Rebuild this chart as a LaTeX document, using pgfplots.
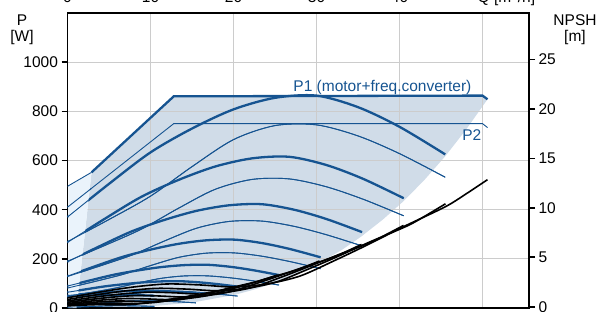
\documentclass[border=0pt]{standalone}
\usepackage{fontspec}
\setmainfont{Liberation Sans}
\usepackage{pgfplots}
\pgfplotsset{compat=1.18}
\usepackage{pgfplotstable}
\definecolor{pblue}{RGB}{22,84,145}
\definecolor{shade}{RGB}{208,220,232}
\definecolor{lshade}{RGB}{234,243,251}
\definecolor{gridc}{RGB}{204,204,204}

% x  P1  P2   (one table per speed)
\pgfplotstableread{
x p1 p2
0 370 270
5 505 360
10 633 455
15 730 575
20 808 685
25 855 742
30 864 745
35 817 700
40 737 628
45.5 625 532
}\sA
\pgfplotstableread{
x p1 p2
0 266.9 190.4
4.45 362.1 253.8
8.9 452.3 320.8
13.35 520.7 405.4
17.8 575.6 482.9
22.25 608.8 523.1
26.7 615.1 525.2
31.15 582.0 493.5
35.6 525.6 442.7
40.5 446.6 375.1
}\sB
\pgfplotstableread{
x p1 p2
0 187.7 128.1
3.9 251.8 170.9
7.8 312.5 215.9
11.7 358.6 272.9
15.6 395.6 325.1
19.5 417.9 352.2
23.4 422.2 353.6
27.3 399.8 332.2
31.2 361.9 298.0
35.49 308.7 252.5
}\sC
\pgfplotstableread{
x p1 p2
0 129.5 81.2
3.35 170.1 108.3
6.7 208.6 136.9
10.05 237.8 173.0
13.4 261.2 206.0
16.75 275.4 223.2
20.1 278.1 224.1
23.45 264.0 210.6
26.8 239.9 188.9
30.49 206.2 160.0
}\sD
\pgfplotstableread{
x p1 p2
0 89.2 47.4
2.8 112.9 63.2
5.6 135.4 79.9
8.4 152.4 101.0
11.2 166.1 120.3
14 174.3 130.3
16.8 175.9 130.8
19.6 167.7 122.9
22.4 153.6 110.3
25.48 134.0 93.4
}\sE
\pgfplotstableread{
x p1 p2
0 64.0 24.6
2.25 76.3 32.8
4.5 88.0 41.5
6.75 96.8 52.4
9 103.9 62.4
11.25 108.2 67.6
13.5 109.0 67.9
15.75 104.7 63.8
18 97.4 57.2
20.48 87.2 48.5
}\sF
\pgfplotstableread{
x p1 p2
0 50.8 10.6
1.7 56.1 14.1
3.4 61.2 17.9
5.1 65.0 22.6
6.8 68.1 26.9
8.5 69.9 29.2
10.2 70.3 29.3
11.9 68.4 27.5
13.6 65.3 24.7
15.47 60.9 20.9
}\sG
\pgfplotstableread{
x p1 p2
0 46.9 3.3
1.15 48.6 4.4
2.3 50.1 5.6
3.45 51.3 7.0
4.6 52.3 8.4
5.75 52.8 9.1
6.9 52.9 9.1
8.05 52.4 8.5
9.2 51.4 7.7
10.47 50.0 6.5
}\sH

\pgfplotsset{set layers,
  thickb/.style={pblue, line width=2.3pt, smooth},
  thinb/.style={pblue, line width=0.9pt, smooth},
  npsh/.style={black, line width=1.6pt, smooth}}

\begin{document}
\begin{tikzpicture}[font=\fontsize{15.5}{18}\selectfont]
\begin{axis}[name=ax, scale only axis, width=461.5pt, height=295pt,
  xmin=0, xmax=55.6, ymin=0, ymax=1200, clip=false,
  axis line style={line width=1.6pt},
  xtick={10,20,30,40,50}, xticklabels={}, xtick style={draw=none},
  ytick={0,200,...,1000}, ytick pos=left, tick align=outside,
  major tick length=6pt, ytick style={line width=1.6pt, black},
  grid=major, major grid style={gridc, line width=1.2pt},
  /pgf/number format/assume math mode=true,
  /pgf/number format/1000 sep={}]
% shaded operating range
\addplot[on layer=axis background, fill=shade, draw=none] coordinates {
(1.1,0) (2.9,552) (12.8,861) (50.0,864) (50.6,849) (48,725) (45.5,617)
(43,521) (40.5,435) (38,360) (35.4,291) (33,235) (30.4,186) (28,144)
(25.3,106) (22.5,75) (20.2,54) (15,22) (10,7) (5,1) (1.1,0)} --cycle;
% curves
\addplot[thinb] table[x=x,y=p2]{\sA};
\addplot[thickb] table[x=x,y=p1]{\sA};
\addplot[thinb] table[x=x,y=p2]{\sB};
\addplot[thickb] table[x=x,y=p1]{\sB};
\addplot[thinb] table[x=x,y=p2]{\sC};
\addplot[thickb] table[x=x,y=p1]{\sC};
\addplot[thinb] table[x=x,y=p2]{\sD};
\addplot[thickb] table[x=x,y=p1]{\sD};
\addplot[thinb] table[x=x,y=p2]{\sE};
\addplot[thickb] table[x=x,y=p1]{\sE};
\addplot[thinb] table[x=x,y=p2]{\sF};
\addplot[thickb] table[x=x,y=p1]{\sF};
\addplot[thinb] table[x=x,y=p2]{\sG};
\addplot[thickb] table[x=x,y=p1]{\sG};
\addplot[thinb] table[x=x,y=p2]{\sH};
\addplot[thickb] table[x=x,y=p1]{\sH};
\addplot[pblue, line width=2.3pt] coordinates {(2.9,552) (12.8,861) (50.0,864) (50.6,849)};
\addplot[pblue, line width=0.9pt] coordinates {(0,410) (12.8,750) (50.0,750) (50.6,734)};
% light low-flow strip
\addplot[fill=lshade, draw=none] coordinates {(0.12,0) (0.12,495) (2.9,552) (1.1,0)} --cycle;
\addplot[thinb] table[x=x,y=p2]{\sA};
\addplot[thinb] table[x=x,y=p1]{\sA};
\addplot[thinb] table[x=x,y=p2]{\sB};
\addplot[thinb] table[x=x,y=p1]{\sB};
\addplot[thinb] table[x=x,y=p2]{\sC};
\addplot[thinb] table[x=x,y=p1]{\sC};
\addplot[thinb] table[x=x,y=p2]{\sD};
\addplot[thinb] table[x=x,y=p1]{\sD};
\addplot[thinb] table[x=x,y=p2]{\sE};
\addplot[thinb] table[x=x,y=p1]{\sE};
\addplot[thinb] table[x=x,y=p2]{\sF};
\addplot[thinb] table[x=x,y=p1]{\sF};
\addplot[thinb] table[x=x,y=p2]{\sG};
\addplot[thinb] table[x=x,y=p1]{\sG};
\addplot[thinb] table[x=x,y=p2]{\sH};
\addplot[thinb] table[x=x,y=p1]{\sH};
\addplot[pblue, line width=0.9pt] coordinates {(0,495) (2.9,552)};
\addplot[pblue, line width=0.9pt] coordinates {(0,410) (2.9,487)};
% labels
\node[anchor=base west, inner sep=0, text=pblue] at (axis cs:27.2,879) {P1 (motor+freq.converter)};
\node[anchor=base, inner sep=0, text=pblue] at (axis cs:48.7,683) {P2};
% cut-off labels of the chart above
\node[anchor=base, inner sep=0] at (axis cs:0,1243) {0};
\node[anchor=base, inner sep=0] at (axis cs:10,1243) {10};
\node[anchor=base, inner sep=0] at (axis cs:20,1243) {20};
\node[anchor=base, inner sep=0] at (axis cs:30,1243) {30};
\node[anchor=base, inner sep=0] at (axis cs:40,1243) {40};
\node[anchor=base west, inner sep=0] at (axis cs:49.4,1243) {Q [m\textsuperscript{3}/h]};
\end{axis}
\begin{axis}[scale only axis, width=461.5pt, height=295pt,
  xmin=0, xmax=55.6, ymin=-0.13, ymax=29.7,
  axis x line=none, axis y line*=right,
  axis line style={line width=1.6pt},
  ytick={0,5,...,25}, tick align=outside, major tick length=6pt,
  ytick style={line width=1.6pt, black},
  /pgf/number format/assume math mode=true]
\addplot[npsh] coordinates {(0,0.9)(4,1.5)(8,2.0)(12,2.3)(16,2.2)(20,2.0)(24,2.3)(28,3.1)(32,4.6)(36,6.2)(40.5,8.1)(45.5,10.1)(48,11.4)(50.6,12.85)};
\addplot[npsh] coordinates {(0,0.73)(3.6,1.22)(7.2,1.62)(10.8,1.86)(14.4,1.78)(18,1.62)(21.6,1.86)(25.2,2.51)(28.8,3.73)(32.4,5.02)(36.45,6.56)(40.95,8.18)(43.2,9.23)(45.54,10.41)};
\addplot[npsh] coordinates {(0,0.58)(3.2,0.96)(6.4,1.28)(9.6,1.47)(12.8,1.41)(16,1.28)(19.2,1.47)(22.4,1.98)(25.6,2.94)(28.8,3.97)(32.4,5.18)(36.4,6.46)(38.4,7.30)(40.48,8.22)};
\addplot[npsh] coordinates {(0,0.44)(2.8,0.74)(5.6,0.98)(8.4,1.13)(11.2,1.08)(14,0.98)(16.8,1.13)(19.6,1.52)(22.4,2.25)(25.2,3.04)(28.35,3.97)(31.85,4.95)(33.6,5.59)(35.42,6.30)};
\addplot[npsh] coordinates {(0,0.32)(2.4,0.54)(4.8,0.72)(7.2,0.83)(9.6,0.79)(12,0.72)(14.4,0.83)(16.8,1.12)(19.2,1.66)(21.6,2.23)(24.3,2.92)(27.3,3.64)(28.8,4.10)(30.36,4.63)};
\addplot[npsh] coordinates {(0,0.23)(2,0.38)(4,0.50)(6,0.58)(8,0.55)(10,0.50)(12,0.58)(14,0.78)(16,1.15)(18,1.55)(20.25,2.03)(22.75,2.53)(24,2.85)(25.3,3.21)};
\addplot[npsh] coordinates {(0,0.14)(1.6,0.24)(3.2,0.32)(4.8,0.37)(6.4,0.35)(8,0.32)(9.6,0.37)(11.2,0.50)(12.8,0.74)(14.4,0.99)(16.2,1.30)(18.2,1.62)(19.2,1.82)(20.24,2.06)};
\addplot[npsh] coordinates {(0,0.08)(1.2,0.14)(2.4,0.18)(3.6,0.21)(4.8,0.20)(6,0.18)(7.2,0.21)(8.4,0.28)(9.6,0.41)(10.8,0.56)(12.15,0.73)(13.65,0.91)(14.4,1.03)(15.18,1.16)};
\end{axis}
\node at ([shift={(-45.5pt,-7pt)}]ax.north west) {P};
\node at ([shift={(-45.5pt,-24pt)}]ax.north west) {[W]};
\node at ([shift={(46pt,-7pt)}]ax.north east) {NPSH};
\node at ([shift={(46pt,-24pt)}]ax.north east) {[m]};
\pgfresetboundingbox
\path[use as bounding box] ([shift={(-67.5pt,-3pt)}]ax.south west) rectangle ([shift={(69pt,13pt)}]ax.north east);
\end{tikzpicture}
\end{document}
